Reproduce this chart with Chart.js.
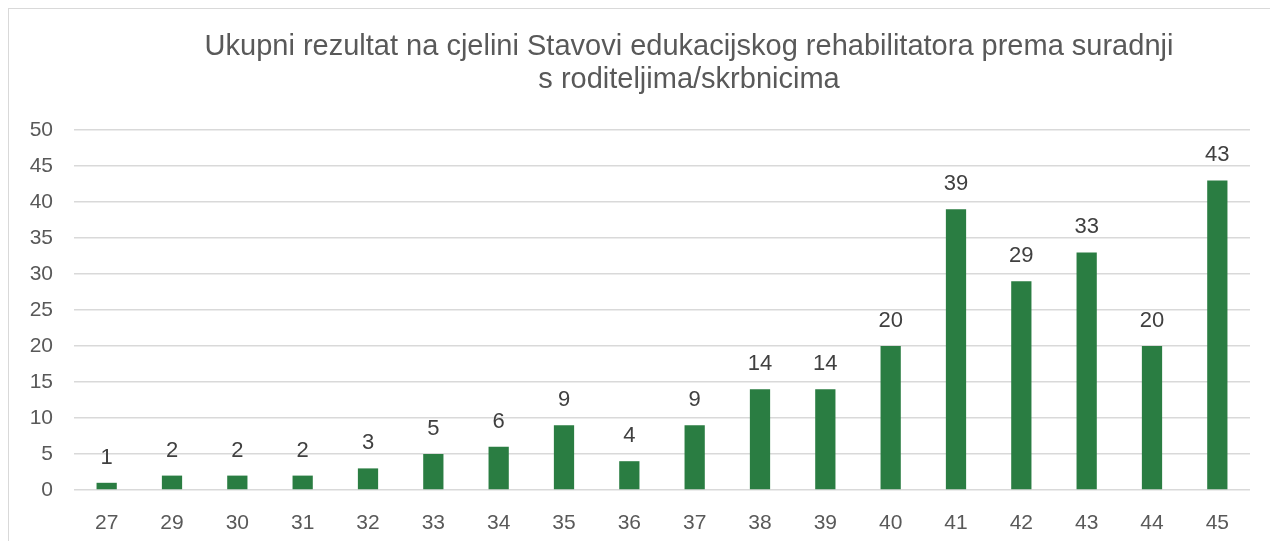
<!DOCTYPE html>
<html>
<head>
<meta charset="utf-8">
<script src="https://cdn.jsdelivr.net/npm/chart.js@4"></script>
<style>
  html, body { margin: 0; padding: 0; background: #fff; }
  #wrap { width: 1270px; height: 541px; position: relative; }
</style>
</head>
<body>
<div id="wrap"><canvas id="myChart" width="1270" height="541"></canvas></div>
<script>
var titleLines = ['Ukupni rezultat na cjelini Stavovi edukacijskog rehabilitatora prema suradnji', 's roditeljima/skrbnicima'];
var categories = ['27', '29', '30', '31', '32', '33', '34', '35', '36', '37', '38', '39', '40', '41', '42', '43', '44', '45'];
var counts = [1, 2, 2, 2, 3, 5, 6, 9, 4, 9, 14, 14, 20, 39, 29, 33, 20, 43];
var yTicks = [0, 5, 10, 15, 20, 25, 30, 35, 40, 45, 50];

var fontFamily = '"Liberation Sans", Arial, sans-serif';

// frame + title + value labels
var extras = {
    id: 'extras',
    beforeDraw: function(chart) {
        var ctx = chart.ctx;
        ctx.save();
        ctx.strokeStyle = '#d9d9d9';
        ctx.lineWidth = 1;
        ctx.strokeRect(8.5, 8.5, 1400, 700);
        ctx.restore();
    },
    afterDraw: function(chart) {
        var ctx = chart.ctx;
        ctx.save();
        ctx.fillStyle = '#595959';
        ctx.font = '29px ' + fontFamily;
        ctx.textAlign = 'center';
        ctx.textBaseline = 'middle';
        ctx.fillText(titleLines[0], 689, 47);
        ctx.fillText(titleLines[1], 689, 80);

        ctx.fillStyle = '#404040';
        ctx.font = '22px ' + fontFamily;
        var meta = chart.getDatasetMeta(0);
        meta.data.forEach(function(bar, i) {
            ctx.fillText(String(counts[i]), bar.x, bar.y - 25);
        });
        ctx.restore();
    }
};

var ctx = document.getElementById('myChart').getContext('2d');
var myChart = new Chart(ctx, {
    type: 'bar',
    data: {
        labels: categories,
        datasets: [{
            data: counts,
            backgroundColor: '#2a7d42',
            barPercentage: 0.31,
            categoryPercentage: 1
        }]
    },
    options: {
        responsive: false,
        animation: false,
        layout: { padding: { left: 10, right: 20, top: 130, bottom: 0 } },
        plugins: {
            legend: { display: false },
            tooltip: { enabled: false },
            title: { display: false }
        },
        scales: {
            x: {
                grid: { display: false, drawTicks: false },
                border: { display: false },
                ticks: { color: '#595959', font: { family: fontFamily, size: 21 }, padding: 21 },
                afterFit: function(scale) { scale.height = 51; }
            },
            y: {
                min: 0,
                max: 50,
                afterBuildTicks: function(scale) {
                    scale.ticks = yTicks.map(function(v) { return { value: v }; });
                },
                grid: { color: '#d9d9d9', lineWidth: 1.5, drawTicks: false },
                border: { display: false },
                ticks: { color: '#595959', font: { family: fontFamily, size: 21 }, padding: 21 },
                afterFit: function(scale) { scale.width = 64; }
            }
        }
    },
    plugins: [extras]
});
</script>
</body>
</html>
